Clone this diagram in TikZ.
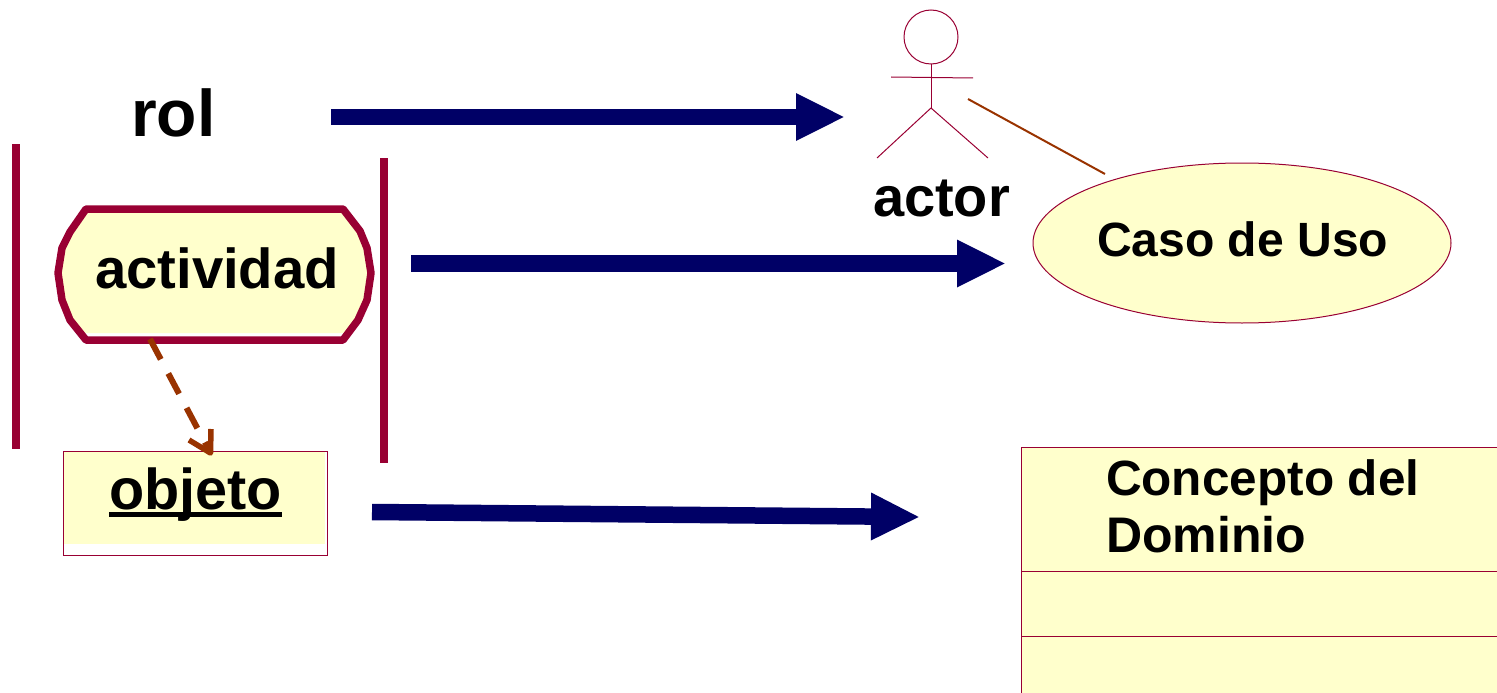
\documentclass[tikz,border=0pt]{standalone}
\usepackage{fontspec}
\setmainfont{Liberation Sans}
\usetikzlibrary{shapes.geometric,arrows.meta}
\definecolor{crim}{HTML}{990033}
\definecolor{navyb}{HTML}{000066}
\definecolor{brn}{HTML}{993300}
\definecolor{yel}{HTML}{FFFFCC}
\tikzset{
  lbl/.style={inner sep=0pt,outer sep=0pt,anchor=base west,text=black,font=\bfseries\fontsize{#1}{#1}\selectfont},
  bigarrow/.style={navyb,line width=16.5pt,-{Triangle[length=49pt,width=44pt]}},
  lane/.style={crim,line width=8pt},
  umlline/.style={crim,line width=1pt},
}
\begin{document}
\begin{tikzpicture}[x=1pt,y=-1pt]
\useasboundingbox (0,0) rectangle (1497,693);
\clip (0,0) rectangle (1497,693);
% swimlanes
\coordinate (l1a) at (16,144); \coordinate (l1b) at (16,449);
\coordinate (l2a) at (384,158); \coordinate (l2b) at (384,463);
\draw[lane] (l1a) -- (l1b);
\draw[lane] (l2a) -- (l2b);
% labels
\node[lbl=66] (rol) at (131,136) {rol};
\node[lbl=56] (actor) at (873,216.5) {actor};
% activity
\fill[yel] (86,209) -- (343,209) -- (360,231) -- (367,248) -- (371,273) -- (367,300) -- (358,320) -- (343,333) -- (86,333) -- (70,320) -- (62,300) -- (58,273) -- (62,248) -- (70,232) -- cycle;
\draw[crim,line width=7.5pt,line join=round] (86,209) -- (343,209) -- (360,231) -- (367,248) -- (371,273) -- (367,300) -- (358,320) -- (343,340) -- (86,340) -- (70,320) -- (62,300) -- (58,273) -- (62,248) -- (70,232) -- cycle;
\node[lbl=56.3] (actividad) at (95,288.5) {actividad};
% object
\fill[yel] (64,452) rectangle (325,544);
\node[draw=crim,line width=1pt,minimum width=264.5pt,minimum height=104pt,inner sep=0pt,outer sep=0pt] (objeto) at (195.5,503) {};
\node[lbl=57.6] (objetotxt) at (109,509) {\makebox[0pt][l]{\rule[-7.5pt]{172.5pt}{5pt}}objeto};
% actor figure
\node[circle,draw=crim,line width=1pt,minimum size=54pt,inner sep=0pt,outer sep=0pt] (head) at (931,37) {};
\coordinate (hip) at (931,108);
\coordinate (armL) at (891,77); \coordinate (armR) at (973,78);
\coordinate (legL) at (877,158); \coordinate (legR) at (988,158);
\draw[umlline] (head.south) -- (hip);
\draw[umlline] (armL) -- (armR);
\draw[umlline] (legL) -- (hip) -- (legR);
% use case
\node[ellipse,draw=crim,fill=yel,line width=1pt,minimum width=418pt,minimum height=160pt,inner sep=0pt,outer sep=0pt] (caso) at (1242,243) {};
\node[lbl=48.1] (casotxt) at (1097,256) {Caso de Uso};
\coordinate (assoc) at (968,99); \coordinate (assocEnd) at (1105,174);
\draw[brn,line width=2pt] (assoc) -- (assocEnd);
% class
\draw[crim,line width=1pt,fill=yel] (1021.5,720) -- (1021.5,447) -- (1520,447) -- (1520,720) -- cycle;
\coordinate (s1a) at (1021.5,571.5); \coordinate (s1b) at (1520,571.5);
\coordinate (s2a) at (1021.5,636.5); \coordinate (s2b) at (1520,636.5);
\draw[umlline] (s1a) -- (s1b);
\draw[umlline] (s2a) -- (s2b);
\node[lbl=49.5] (c1) at (1106,495) {Concepto del};
\node[lbl=50] (c2) at (1106,552) {Dominio};
% dependency
\coordinate (dep) at (210.5,453);
\coordinate (barbA) at (189,440); \coordinate (barbB) at (211,429);
\draw[brn,line width=6pt,dash pattern=on 23pt off 16pt] (150,339) -- (dep);
\draw[brn,line width=5.5pt,line join=round] (barbA) -- (dep) -- (barbB);
% arrows
\coordinate (a1) at (331,117); \coordinate (a1e) at (845,117);
\coordinate (a2) at (411,263.5); \coordinate (a2e) at (1006,263.5);
\coordinate (a3) at (372,512); \coordinate (a3e) at (920,517);
\draw[bigarrow] (a1) -- (a1e);
\draw[bigarrow] (a2) -- (a2e);
\draw[bigarrow] (a3) -- (a3e);
\end{tikzpicture}
\end{document}
